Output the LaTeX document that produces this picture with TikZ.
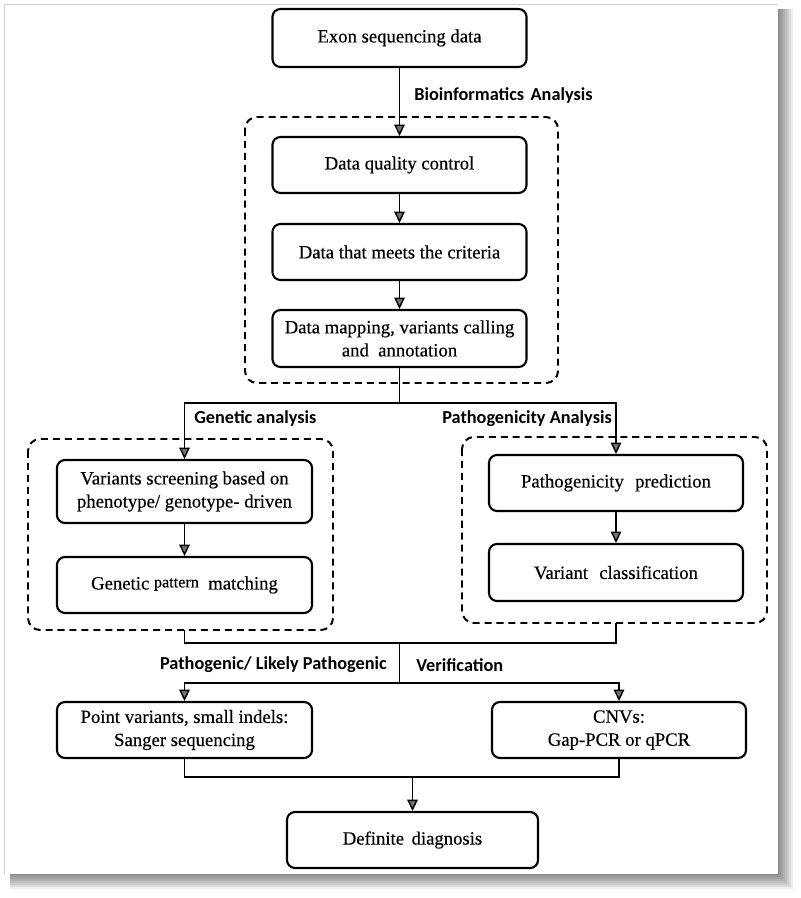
\documentclass[tikz,border=0pt]{standalone}
\usepackage{fontspec}
\setmainfont{Liberation Serif}[FakeBold=0.35]
\newfontfamily\labfont{Carlito}
\usetikzlibrary{arrows.meta}
\begin{document}
\begin{tikzpicture}[x=0.025cm,y=-0.025cm,
  box/.style={draw=black,line width=1.5pt,rounded corners=0.2cm,align=center,
    fill=white,inner sep=2pt,font=\fontsize{13.3}{16.4}\selectfont,
    minimum width=6.35cm,minimum height=1.4cm},
  dashbox/.style={draw=black,line width=1.4pt,dash pattern=on 5pt off 3.5pt,rounded corners=0.3cm},
  lab/.style={font=\labfont\bfseries\fontsize{13}{15}\selectfont,inner sep=0pt},
  conn/.style={draw=black,line width=1.3pt},
  arr/.style={conn,-{Triangle[width=7.5pt,length=8pt,fill=black!55,line width=1pt]}}]
\useasboundingbox (0,0) rectangle (800,898);
\fill[white] (0,0) rectangle (800,898);
% card shadow
\foreach \d in {2,4,...,18}{
  \fill[black,opacity=0.07] (10,9) rectangle (775+\d,871+\d);
}
\fill[white] (4,4) rectangle (778,874);
\draw[black!18,line width=0.5pt] (4,874) -- (4,4) -- (778,4);

% top chain
\node[box,minimum height=1.45cm] (exon) at (399.5,38) {Exon sequencing data};
\draw[dashbox] (245,117) rectangle (558,383);
\node[box] (dqc) at (399.5,165) {Data quality control};
\node[box] (dmc) at (399.5,252) {Data that meets the criteria};
\node[box,minimum height=1.425cm] (map) at (399.5,338.5) {Data mapping, variants calling\\and\hspace{0.5em}annotation};
\node[lab,anchor=west] (bia) at (414,96) {Bioinformatics\hspace{0.35em}Analysis};

\draw[arr] (exon) -- (dqc);
\draw[arr] (dqc) -- (dmc);
\draw[arr] (dmc) -- (map);

% middle
\draw[dashbox] (28,439) rectangle (333,630);
\draw[dashbox] (462,437) rectangle (767,623);
\node[box,minimum width=6.375cm,minimum height=1.575cm] (vs) at (184.5,491.5) {Variants screening based on\\phenotype/ genotype- driven};
\node[box,minimum width=6.375cm] (gpm) at (184.5,585) {Genetic \raisebox{1.5pt}{\fontsize{11.5}{12}\selectfont pattern}\hspace{0.5em}matching};
\node[box] (pp) at (616,483) {Pathogenicity\hspace{0.6em}prediction};
\node[box,minimum height=1.425cm] (vc) at (616,572.5) {Variant\hspace{0.6em}classification};
\node[lab,anchor=west] (gal) at (194,419) {Genetic analysis};
\node[lab,anchor=west] (pal) at (442,419) {Pathogenicity Analysis};

\coordinate (j1) at (399.5,403);
\draw[conn] (map.south) -- (j1);
\draw[arr] (j1) -| (vs.north);
\draw[arr] (j1) -| (pp.north);
\draw[arr] (vs) -- (gpm);
\draw[arr] (pp) -- (vc);

% bottom
\coordinate (d2b) at (184.5,630);
\coordinate (d3b) at (616,623);
\coordinate (j2) at (399.5,643);
\coordinate (j3) at (399.5,683);
\draw[conn] (d2b) |- (j2) -| (d3b);
\draw[conn] (j2) -- (j3);
\node[lab,anchor=east] (plp) at (387,665) {Pathogenic/ Likely Pathogenic};
\node[lab,anchor=west] (ver) at (416,665) {Verification};

\node[box,minimum width=6.375cm] (pv) at (184.5,730) {Point variants, small indels:\\Sanger sequencing};
\node[box] (cnv) at (619,730) {CNVs:\\Gap-PCR or qPCR};
\draw[arr] (j3) -| (pv.north);
\draw[arr] (j3) -| (cnv.north);

\node[box,minimum width=6.275cm] (dd) at (412.5,840) {Definite\hspace{0.4em}diagnosis};
\coordinate (j4) at (412.5,777);
\draw[conn] (pv.south) |- (j4);
\draw[conn] (cnv.south) |- (j4);
\draw[arr] (j4) -- (dd);
\end{tikzpicture}
\end{document}
